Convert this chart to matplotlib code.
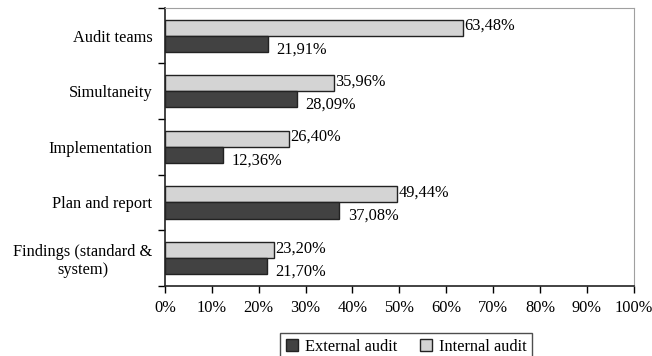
import numpy as np
import matplotlib.pyplot as plt
from matplotlib.ticker import FixedLocator

plt.rcParams['font.family'] = ['Liberation Serif', 'DejaVu Serif']
plt.rcParams['font.size'] = 11.8

categories = ['Audit teams', 'Simultaneity', 'Implementation', 'Plan and report',
              'Findings (standard &\nsystem)']
external = [21.91, 28.09, 12.36, 37.08, 21.70]
internal = [63.48, 35.96, 26.40, 49.44, 23.20]
ticks = [0, 10, 20, 30, 40, 50, 60, 70, 80, 90, 100]

fig = plt.figure(figsize=(6.52, 3.56), dpi=100)
ax = fig.add_axes([0.253, 0.197, 0.719, 0.781])

y = np.arange(len(categories))
h = 0.29
ax.barh(y - h / 2, internal, height=h, color='#d4d4d4', edgecolor='#222222',
        linewidth=1.0, label='Internal audit')
ax.barh(y + h / 2, external, height=h, color='#424242', edgecolor='#222222',
        linewidth=1.0, label='External audit')

# value labels with comma decimals
for yi, v in zip(y, internal):
    ax.text(v + 0.4, yi - h / 2 - 0.03, f'{v:.2f}%'.replace('.', ','),
            va='center', ha='left')
for yi, v in zip(y, external):
    ax.text(v + 1.9, yi + h / 2 + 0.1, f'{v:.2f}%'.replace('.', ','),
            va='center', ha='left')

ax.set_xlim(0, 100)
ax.set_ylim(len(categories) - 0.5, -0.5)
ax.set_xticks(ticks)
ax.set_xticklabels([f'{t}%' for t in ticks])
ax.set_yticks(y)
ax.set_yticklabels(categories, ha='right', multialignment='center')
ax.yaxis.set_minor_locator(FixedLocator(np.arange(len(categories) + 1) - 0.5))
ax.tick_params(axis='y', which='major', length=0, pad=9)
ax.tick_params(axis='y', which='minor', length=5, direction='out', width=1)
ax.tick_params(axis='x', length=5, direction='out', width=1, pad=5)

for s in ['top', 'right']:
    ax.spines[s].set_color('#a0a0a0')
for s in ['left', 'bottom']:
    ax.spines[s].set_color('#222222')
    ax.spines[s].set_linewidth(1.2)

handles, labels = ax.get_legend_handles_labels()
fig.legend(handles[::-1], labels[::-1], loc='lower center', ncol=2,
           bbox_to_anchor=(0.623, -0.035), frameon=True, fancybox=False,
           edgecolor='#222222', handlelength=0.75, handleheight=0.75,
           handletextpad=0.4, columnspacing=1.4, borderpad=0.35)

fig.savefig('out.png', dpi=100)
